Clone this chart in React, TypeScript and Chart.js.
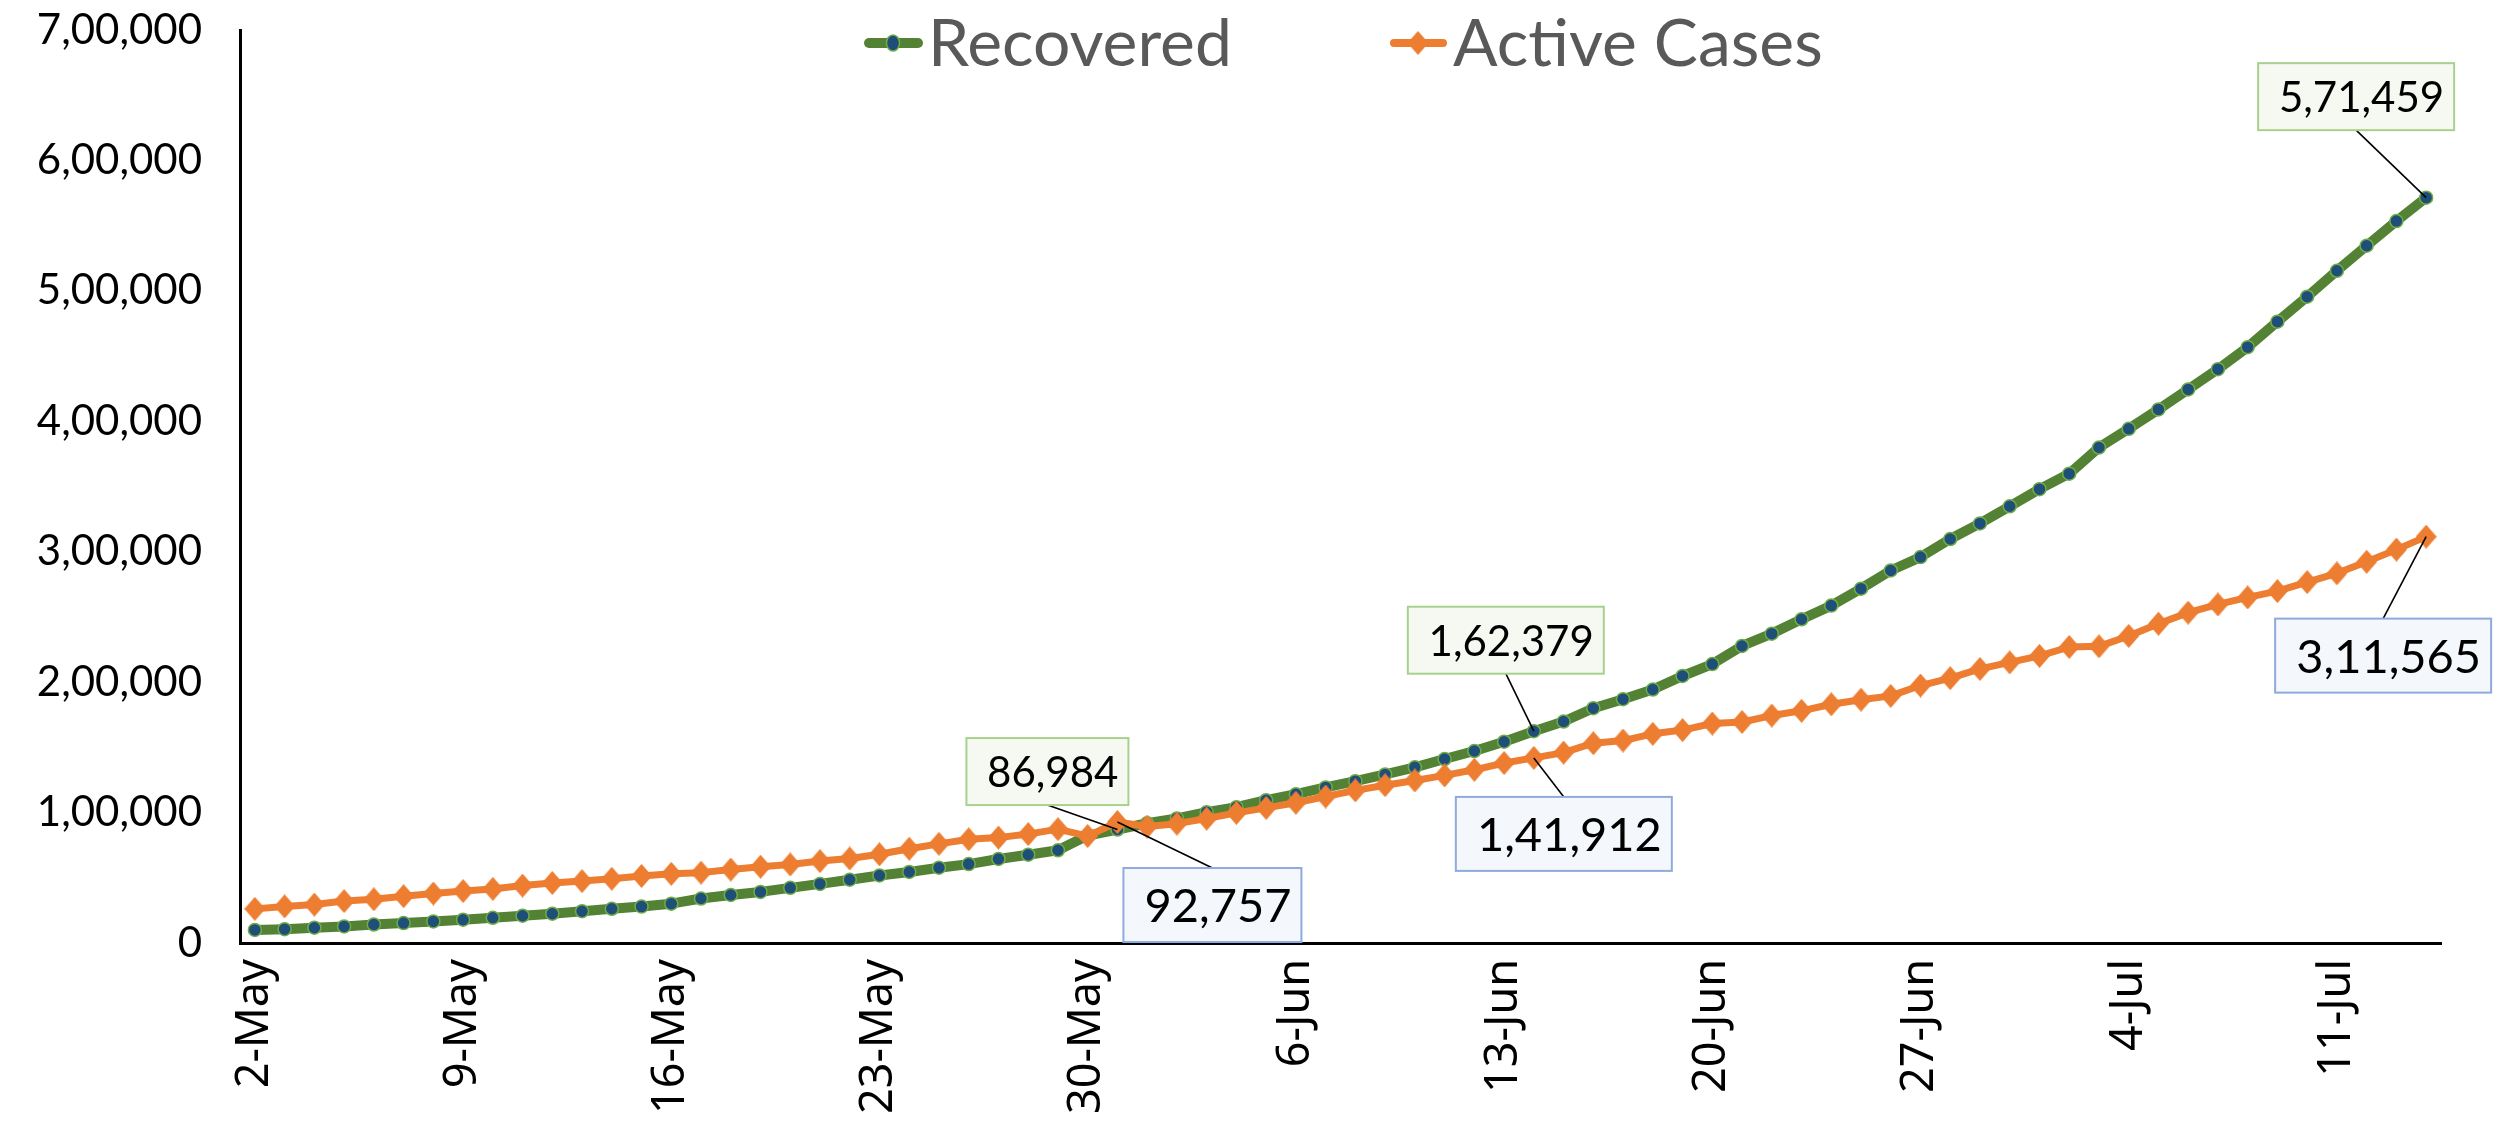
import React, { useEffect, useRef } from "react";
import { Chart, registerables } from "chart.js";

Chart.register(...registerables);

// ---------- data ----------
const dates = [
  "2-May", "3-May", "4-May", "5-May", "6-May", "7-May", "8-May", "9-May", "10-May", "11-May",
  "12-May", "13-May", "14-May", "15-May", "16-May", "17-May", "18-May", "19-May", "20-May", "21-May",
  "22-May", "23-May", "24-May", "25-May", "26-May", "27-May", "28-May", "29-May", "30-May", "31-May",
  "1-Jun", "2-Jun", "3-Jun", "4-Jun", "5-Jun", "6-Jun", "7-Jun", "8-Jun", "9-Jun", "10-Jun",
  "11-Jun", "12-Jun", "13-Jun", "14-Jun", "15-Jun", "16-Jun", "17-Jun", "18-Jun", "19-Jun", "20-Jun",
  "21-Jun", "22-Jun", "23-Jun", "24-Jun", "25-Jun", "26-Jun", "27-Jun", "28-Jun", "29-Jun", "30-Jun",
  "1-Jul", "2-Jul", "3-Jul", "4-Jul", "5-Jul", "6-Jul", "7-Jul", "8-Jul", "9-Jul", "10-Jul",
  "11-Jul", "12-Jul", "13-Jul", "14-Jul",
];

const recovered = [
  10018, 10633, 11707, 12727, 14183, 15267, 16540, 17847, 19358, 20917,
  22455, 24386, 26235, 27920, 30153, 34109, 36824, 39174, 42298, 45300,
  48534, 51784, 54441, 57721, 60491, 64426, 67692, 71106, 82370, 86984,
  91819, 95527, 100303, 104107, 109462, 114073, 119293, 124095, 129215, 134670,
  141029, 147195, 154330, 162379, 169798, 180013, 186935, 194325, 204711, 213831,
  227756, 237196, 248190, 258685, 271697, 285637, 295881, 309713, 321723, 334822,
  347979, 359860, 379892, 394227, 409083, 424433, 439948, 456831, 476378, 495513,
  515386, 534621, 553471, 571459,
];

const activeCases = [
  26167, 28046, 29453, 32138, 33514, 35902, 37916, 39834, 41472, 44029,
  46008, 47480, 49219, 51401, 53035, 53946, 56316, 58500, 60200, 62800,
  64800, 68000, 72300, 76000, 79500, 80800, 83500, 87300, 82000, 92757,
  89300, 91500, 95400, 99800, 103600, 107500, 112300, 117000, 121000, 124600,
  128500, 132800, 138000, 141912, 146000, 153178, 155227, 160384, 163248, 168269,
  169451, 174387, 178014, 183022, 186514, 189463, 197387, 203051, 210120, 215125,
  220114, 226947, 227439, 235433, 244814, 253287, 259557, 264944, 269789, 276685,
  283407, 292258, 301609, 311565,
];

const seriesNames = ["Recovered", "Active Cases"];
const Y_MIN = 0;
const Y_MAX = 700000;
const Y_STEP = 100000;
const LABEL_EVERY = 7;

// callouts: which point, where the box sits relative to it (style only)
const callouts = [
  { series: 0, index: 73, cx: -70, cy: -101, kind: "green" },
  { series: 0, index: 29, cx: -70, cy: -58, kind: "green" },
  { series: 1, index: 29, cx: 95, cy: 83, kind: "blue" },
  { series: 0, index: 43, cx: -28, cy: -91, kind: "green" },
  { series: 1, index: 43, cx: 30, cy: 76, kind: "blue" },
  { series: 1, index: 73, cx: -43, cy: 119, kind: "blue" },
];

// ---------- helpers ----------
function fmtIN(n: number): string {
  const s = Math.round(n).toString();
  if (s.length <= 3) return s;
  const last3 = s.slice(-3);
  let rest = s.slice(0, -3);
  const parts: string[] = [];
  while (rest.length > 2) {
    parts.unshift(rest.slice(-2));
    rest = rest.slice(0, -2);
  }
  if (rest) parts.unshift(rest);
  return parts.join(",") + "," + last3;
}

function makeDiamond(w: number, h: number, color: string): HTMLCanvasElement {
  const c = document.createElement("canvas");
  c.width = w;
  c.height = h;
  const g = c.getContext("2d")!;
  g.fillStyle = color;
  g.beginPath();
  g.moveTo(w / 2, 0);
  g.lineTo(w, h / 2);
  g.lineTo(w / 2, h);
  g.lineTo(0, h / 2);
  g.closePath();
  g.fill();
  return c;
}

const GREEN = "#548235";
const GREEN_LIGHT = "#70AD47";
const BLUE_DOT = "#1F4E79";
const ORANGE = "#ED7D31";

const legendPlugin = {
  id: "xlLegend",
  afterDraw(chart: any) {
    const ctx = chart.ctx as CanvasRenderingContext2D;
    const items = [
      { ds: 0, x: 864 },
      { ds: 1, x: 1389 },
    ];
    const cy = 43;
    ctx.save();
    items.forEach((it) => {
      const ds = chart.data.datasets[it.ds];
      ctx.strokeStyle = ds.borderColor;
      ctx.lineWidth = it.ds === 0 ? 10 : 8;
      ctx.lineCap = "round";
      ctx.beginPath();
      ctx.moveTo(it.x + 5, cy);
      ctx.lineTo(it.x + 54, cy);
      ctx.stroke();
      const mx = it.x + 29;
      const ps = ds.pointStyle;
      if (ps && typeof ps === "object") {
        ctx.drawImage(ps, mx - ps.width / 2, cy - ps.height / 2);
      } else {
        ctx.beginPath();
        ctx.ellipse(mx, cy, ds.pointRadius, ds.pointRadius + 1.5, 0, 0, Math.PI * 2);
        ctx.fillStyle = ds.pointBackgroundColor;
        ctx.fill();
        ctx.lineWidth = ds.pointBorderWidth;
        ctx.strokeStyle = ds.pointBorderColor;
        ctx.stroke();
      }
      ctx.fillStyle = "#595959";
      ctx.font = "66px Lato";
      ctx.textAlign = "left";
      ctx.textBaseline = "alphabetic";
      ctx.fillText(ds.label, it.x + 64, 66);
    });
    ctx.restore();
  },
};

const calloutPlugin = {
  id: "xlCallouts",
  afterDatasetsDraw(chart: any) {
    const ctx = chart.ctx as CanvasRenderingContext2D;
    ctx.save();
    callouts.forEach((c) => {
      const meta = chart.getDatasetMeta(c.series);
      const pt = meta.data[c.index];
      if (!pt) return;
      const px = pt.x;
      const py = pt.y;
      const value = chart.data.datasets[c.series].data[c.index];
      const text = fmtIN(value);
      const green = c.kind === "green";
      const fontSize = green ? 42 : 47;
      ctx.font = `${fontSize}px Lato`;
      const tw = ctx.measureText(text).width;
      const w = Math.round(tw + 31);
      const h = green ? 67 : 74;
      const bx = px + c.cx - w / 2;
      const by = py + c.cy - h / 2;
      // leader
      const ax = bx + w / 2;
      const ay = c.cy < 0 ? by + h : by;
      ctx.strokeStyle = "#000";
      ctx.lineWidth = 1.6;
      ctx.beginPath();
      ctx.moveTo(ax, ay);
      ctx.lineTo(px, py);
      ctx.stroke();
      // box
      ctx.fillStyle = green ? "#F5F9F1" : "#F4F7FC";
      ctx.fillRect(bx, by, w, h);
      ctx.strokeStyle = green ? "#A9D18E" : "#8FAADC";
      ctx.lineWidth = 2;
      ctx.strokeRect(bx, by, w, h);
      // text
      ctx.fillStyle = "#000";
      ctx.textAlign = "right";
      ctx.textBaseline = "middle";
      ctx.fillText(text, bx + w - 10, by + h / 2 + 2);
    });
    ctx.restore();
  },
};

export default function App() {
  const ref = useRef<HTMLCanvasElement>(null);

  useEffect(() => {
    document.body.style.margin = "0";
    const canvas = ref.current;
    if (!canvas) return;
    const diamond = makeDiamond(21, 24, ORANGE);

    const chart = new Chart(canvas, {
      type: "line",
      data: {
        labels: dates,
        datasets: [
          {
            label: seriesNames[0],
            data: recovered,
            borderColor: GREEN,
            backgroundColor: GREEN,
            borderWidth: 10,
            borderJoinStyle: "round",
            borderCapStyle: "round",
            tension: 0,
            pointStyle: "circle",
            pointRadius: 6.5,
            pointBackgroundColor: BLUE_DOT,
            pointBorderColor: GREEN_LIGHT,
            pointBorderWidth: 1.5,
            order: 1,
          },
          {
            label: seriesNames[1],
            data: activeCases,
            borderColor: ORANGE,
            backgroundColor: ORANGE,
            borderWidth: 7,
            borderJoinStyle: "round",
            borderCapStyle: "round",
            tension: 0,
            pointStyle: diamond as any,
            pointRadius: 11,
            pointBackgroundColor: ORANGE,
            pointBorderColor: ORANGE,
            pointBorderWidth: 0,
            order: 0,
          },
        ],
      },
      options: {
        responsive: false,
        devicePixelRatio: 1,
        animation: false,
        events: [],
        layout: { padding: { top: 30, right: 65, left: 0, bottom: 0 } },
        plugins: {
          legend: { display: false },
          title: { display: false },
          tooltip: { enabled: false },
        },
        scales: {
          x: {
            type: "category",
            offset: true,
            grid: { display: false, drawTicks: false },
            border: { display: true, color: "#000", width: 3 },
            ticks: {
              autoSkip: false,
              minRotation: 90,
              maxRotation: 90,
              padding: 16,
              color: "#000",
              font: { family: '"Noto Sans"', size: 45 },
              callback: (_v: any, i: number) => (i % LABEL_EVERY === 0 ? dates[i] : ""),
            },
            afterFit: (s: any) => {
              s.height = 182;
              s.paddingLeft = 0;
              s.paddingRight = 0;
            },
          },
          y: {
            min: Y_MIN,
            max: Y_MAX,
            grid: { display: false, drawTicks: false },
            border: { display: true, color: "#000", width: 3 },
            ticks: {
              stepSize: Y_STEP,
              padding: 38,
              color: "#000",
              font: { family: "Lato", size: 42 },
              callback: (v: any) => fmtIN(Number(v)),
            },
            afterFit: (s: any) => {
              s.width = 240;
              s.paddingTop = 0;
              s.paddingBottom = 0;
            },
          },
        },
      },
      plugins: [calloutPlugin, legendPlugin],
    } as any);

    return () => chart.destroy();
  }, []);

  return (
    <div style={{ width: 2506, height: 1125, background: "#fff" }}>
      <canvas ref={ref} width={2506} height={1125} style={{ display: "block" }} />
    </div>
  );
}
